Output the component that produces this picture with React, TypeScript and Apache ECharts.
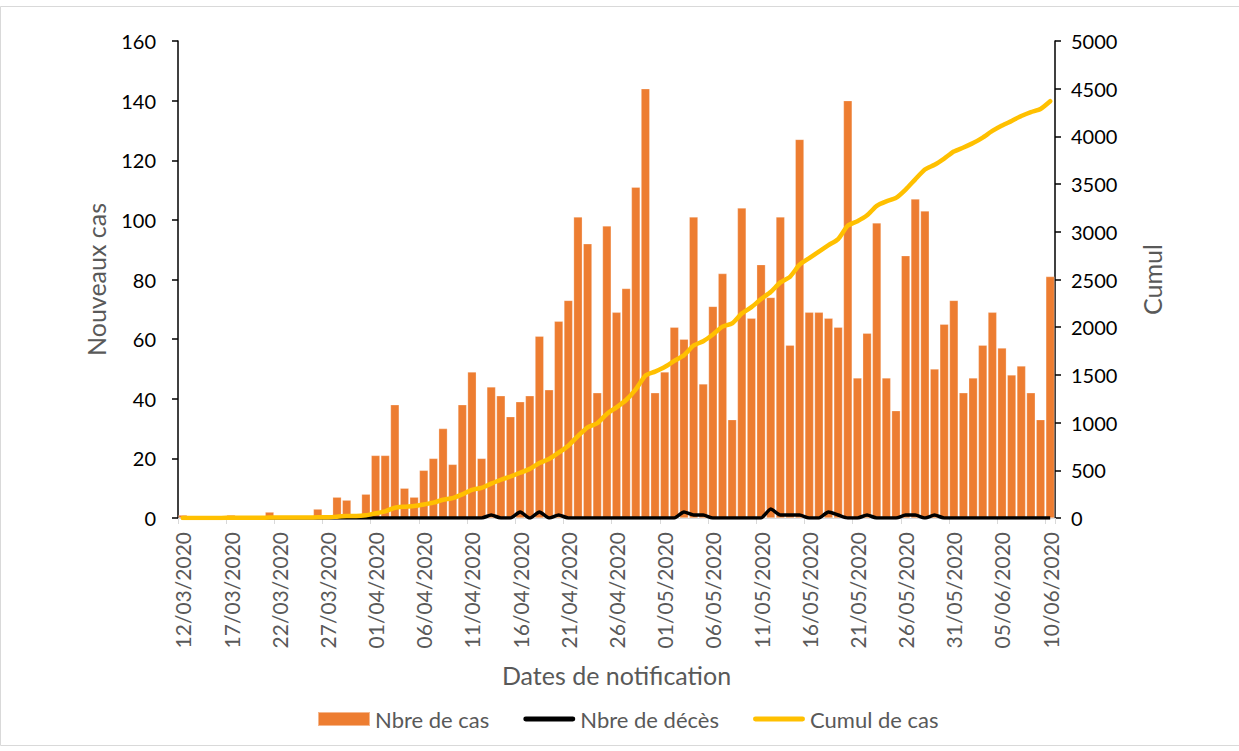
import React, { useEffect, useRef } from "react";
import * as echarts from "echarts";

// Dates: 12/03/2020 .. 10/06/2020 (91 days)
function buildDates(): string[] {
  const out: string[] = [];
  const d = new Date(Date.UTC(2020, 2, 12));
  for (let i = 0; i < 91; i++) {
    const dd = String(d.getUTCDate()).padStart(2, "0");
    const mm = String(d.getUTCMonth() + 1).padStart(2, "0");
    out.push(`${dd}/${mm}/${d.getUTCFullYear()}`);
    d.setUTCDate(d.getUTCDate() + 1);
  }
  return out;
}
const dates = buildDates();

const nbreCas = [
  1, 0, 0, 0, 0, 1, 0, 0, 0, 2, 0, 0, 0, 0, 3, 0,
  7, 6, 0, 8,
  21, 21, 38, 10, 7, 16, 20, 30, 18, 38,
  49, 20, 44, 41, 34, 39, 41, 61, 43, 66,
  73, 101, 92, 42, 98, 69, 77, 111, 144, 42,
  49, 64, 60, 101, 45, 71, 82, 33, 104, 67,
  85, 74, 101, 58, 127, 69, 69, 67, 64, 140,
  47, 62, 99, 47, 36, 88, 107, 103, 50, 65,
  73, 42, 47, 58, 69, 57, 48, 51, 42, 33, 81,
];

const nbreDeces = [
  0, 0, 0, 0, 0, 0, 0, 0, 0, 0, 0, 0, 0, 0, 0, 0,
  0, 0, 0, 0,
  0, 0, 0, 0, 0, 0, 0, 0, 0, 0,
  0, 0, 1, 0, 0, 2, 0, 2, 0, 1,
  0, 0, 0, 0, 0, 0, 0, 0, 0, 0,
  0, 0, 2, 1, 1, 0, 0, 0, 0, 0,
  0, 3, 1, 1, 1, 0, 0, 2, 1, 0,
  0, 1, 0, 0, 0, 1, 1, 0, 1, 0,
  0, 0, 0, 0, 0, 0, 0, 0, 0, 0, 0,
];

const cumulCas = [
  1, 1, 1, 1, 1, 2, 2, 2, 2, 4, 4, 4, 4, 4, 7, 7,
  14, 20, 20, 28,
  49, 70, 108, 118, 125, 141, 161, 191, 209, 247,
  296, 316, 360, 401, 435, 474, 515, 576, 619, 685,
  758, 859, 951, 993, 1091, 1160, 1237, 1348, 1492, 1534,
  1583, 1647, 1707, 1808, 1853, 1924, 2006, 2039, 2143, 2210,
  2295, 2369, 2470, 2528, 2655, 2724, 2793, 2860, 2924, 3064,
  3111, 3173, 3272, 3319, 3355, 3443, 3550, 3653, 3703, 3768,
  3841, 3883, 3930, 3988, 4057, 4114, 4162, 4213, 4255, 4288, 4369,
];

const FONT = "Lato, 'Noto Sans', sans-serif";
const GRAY = "#595959";
const LINE_ICON = "path://M2,0 L50,0 A2.5,2.5 0 0 1 50,5 L2,5 A2.5,2.5 0 0 1 2,0 Z";

export default function App() {
  const ref = useRef<HTMLDivElement>(null);
  useEffect(() => {
    document.body.style.margin = "0";
    if (!ref.current) return;
    const chart = echarts.init(ref.current, null, { renderer: "svg" });
    chart.setOption({
      animation: false,
      backgroundColor: "#ffffff",
      textStyle: { fontFamily: FONT },
      graphic: [
        {
          type: "rect",
          shape: { x: 0.5, y: 6.5, width: 1260, height: 739 },
          style: { fill: "none", stroke: "#d9d9d9", lineWidth: 1 },
          silent: true,
        },
      ],
      grid: { left: 178, right: 184, top: 41, bottom: 233, containLabel: false },
      legend: {
        top: 703,
        left: 312,
        itemGap: 34,
        itemWidth: 52,
        itemHeight: 14,
        textStyle: { color: GRAY, fontSize: 22, fontFamily: FONT },
        data: [
          { name: "Nbre de cas", icon: "rect" },
          { name: "Nbre de décès", icon: LINE_ICON },
          { name: "Cumul de cas", icon: LINE_ICON },
        ],
      },
      xAxis: {
        type: "category",
        data: dates,
        boundaryGap: true,
        name: "Dates de notification",
        nameLocation: "middle",
        nameGap: 144,
        nameTextStyle: { color: GRAY, fontSize: 25, fontFamily: FONT },
        axisLine: { show: true, lineStyle: { color: "#d9d9d9", width: 1 } },
        axisTick: {
          show: true,
          interval: 4,
          alignWithLabel: false,
          length: 6,
          lineStyle: { color: "#d9d9d9", width: 1 },
        },
        axisLabel: {
          interval: 4,
          rotate: 90,
          margin: 14,
          color: GRAY,
          fontSize: 21,
          fontFamily: FONT,
        },
        splitLine: { show: false },
      },
      yAxis: [
        {
          type: "value",
          min: 0,
          max: 160,
          interval: 20,
          name: "Nouveaux cas",
          nameLocation: "middle",
          nameRotate: 90,
          nameGap: 70,
          nameTextStyle: { color: GRAY, fontSize: 25, fontFamily: FONT },
          axisLine: { show: true, lineStyle: { color: "#000", width: 1.5 } },
          axisTick: { show: true, length: 6, lineStyle: { color: "#000", width: 1.5 } },
          axisLabel: { color: "#000", fontSize: 20, margin: 22, fontFamily: FONT, formatter: (v: number) => String(v) },
          splitLine: { show: false },
        },
        {
          type: "value",
          min: 0,
          max: 5000,
          interval: 500,
          position: "right",
          name: "Cumul",
          nameLocation: "middle",
          nameRotate: 90,
          nameGap: 84,
          nameTextStyle: { color: GRAY, fontSize: 25, fontFamily: FONT },
          axisLine: { show: true, lineStyle: { color: "#000", width: 1.5 } },
          axisTick: { show: true, length: 6, lineStyle: { color: "#000", width: 1.5 } },
          axisLabel: { color: "#000", fontSize: 20, margin: 16, fontFamily: FONT, formatter: (v: number) => String(v) },
          splitLine: { show: false },
        },
      ],
      series: [
        {
          name: "Nbre de cas",
          type: "bar",
          data: nbreCas,
          yAxisIndex: 0,
          barCategoryGap: "9%",
          itemStyle: { color: "#ED7D31", borderColor: "rgba(255,255,255,0.45)", borderWidth: 0.6 },
        },
        {
          name: "Nbre de décès",
          type: "line",
          data: nbreDeces,
          yAxisIndex: 0,
          symbol: "none",
          smooth: 0.2,
          lineStyle: { color: "#000000", width: 3.5 },
          itemStyle: { color: "#000000" },
        },
        {
          name: "Cumul de cas",
          type: "line",
          data: cumulCas,
          yAxisIndex: 1,
          symbol: "none",
          smooth: 0.2,
          lineStyle: { color: "#FFC000", width: 4.5, cap: "round" },
          itemStyle: { color: "#FFC000" },
        },
      ],
    });
    return () => chart.dispose();
  }, []);
  return <div ref={ref} style={{ width: 1239, height: 751 }} />;
}
